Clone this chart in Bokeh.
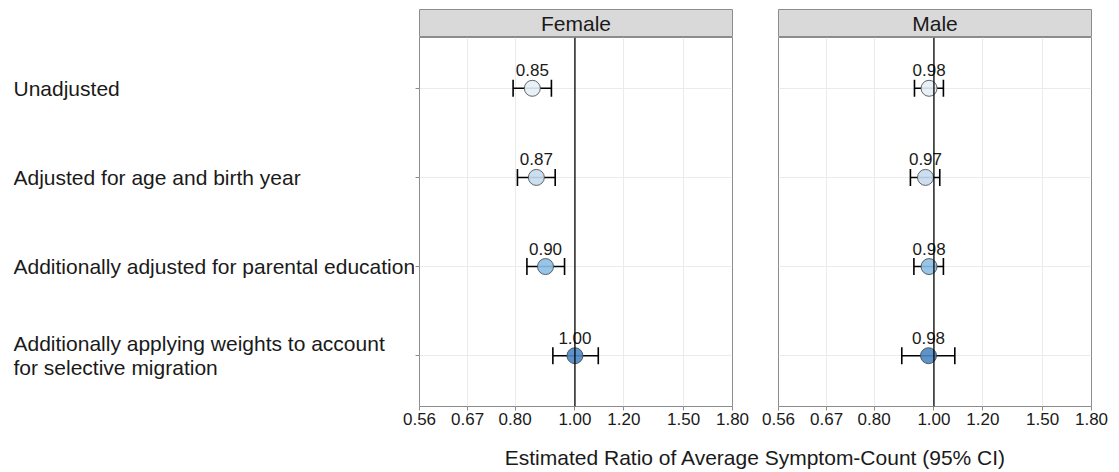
import math
from bokeh.plotting import figure
from bokeh.layouts import row, column
from bokeh.models import (ColumnDataSource, Range1d, FixedTicker, NumeralTickFormatter,
                          Whisker, TeeHead, Span, Spacer)
from bokeh.core.properties import value
from bokeh.embed import file_html
from bokeh.resources import INLINE

# ---------------- data ----------------
categories = [
    "Unadjusted",
    "Adjusted for age and birth year",
    "Additionally adjusted for parental education",
    "Additionally applying weights to account\nfor selective migration",
]
panels = ["Female", "Male"]

female_est = [0.853, 0.866, 0.896, 1.000]
female_lo = [0.794, 0.807, 0.836, 0.921]
female_hi = [0.916, 0.929, 0.962, 1.091]

male_est = [0.982, 0.969, 0.982, 0.980]
male_lo = [0.930, 0.916, 0.928, 0.887]
male_hi = [1.036, 1.022, 1.036, 1.081]

x_ticks = [0.56, 0.67, 0.80, 1.00, 1.20, 1.50, 1.80]
x_title = "Estimated Ratio of Average Symptom-Count (95% CI)"
point_fills = ["#e6eef7", "#c6dbef", "#8bbfe6", "#4c87c3"]

# ---------------- style ----------------
FONT = "Liberation Sans"
TXT = "#1a1a1a"
BORDER = "#8c8c8c"
GRID = "#ebebeb"
X_LO, X_HI = x_ticks[0], x_ticks[-1]
FRAME_W, FRAME_H = 313, 369
LAB_W = 414           # category-label column width
OVERLAP = 17          # female panel slides under the label column's right edge
F_LEFT = 419 - LAB_W + OVERLAP

n = len(categories)
y_pos = [n - i for i in range(n)]
y_range = Range1d(0.43, n + 0.57)


def panel(name, est, lo, hi, left_b, right_b, show_ticks, **kw):
    xr = Range1d(X_LO, X_HI)
    p = figure(frame_width=FRAME_W, frame_height=FRAME_H, x_axis_type="log",
               x_range=xr, y_range=y_range, output_backend="svg",
               toolbar_location=None, min_border_left=left_b,
               min_border_right=right_b, min_border_top=0, min_border_bottom=26,
               y_axis_location="left" if show_ticks else None, **kw)
    p.outline_line_color = BORDER
    p.outline_line_width = 1
    p.background_fill_color = "white"
    p.border_fill_color = "white"

    p.xaxis.ticker = FixedTicker(ticks=x_ticks)
    p.xaxis.formatter = NumeralTickFormatter(format="0.00")
    p.xaxis.major_tick_out = 4
    p.xaxis.major_tick_in = 0
    p.xaxis.minor_tick_out = 0
    p.xaxis.minor_tick_in = 0
    p.xaxis.major_tick_line_color = BORDER
    p.xaxis.axis_line_color = None
    p.xaxis.major_label_text_font = FONT
    p.xaxis.major_label_text_font_size = "17px"
    p.xaxis.major_label_text_color = TXT
    p.xaxis.major_label_standoff = 2

    if show_ticks:
        p.yaxis.ticker = FixedTicker(ticks=y_pos)
        p.yaxis.major_tick_out = 4
        p.yaxis.major_tick_in = 0
        p.yaxis.minor_tick_out = 0
        p.yaxis.major_tick_line_color = BORDER
        p.yaxis.axis_line_color = None
        p.yaxis.major_label_overrides = {v: "" for v in y_pos}
        p.yaxis.major_label_standoff = 0

    p.xgrid.ticker = FixedTicker(ticks=x_ticks)
    p.ygrid.ticker = FixedTicker(ticks=y_pos)
    p.xgrid.grid_line_color = GRID
    p.ygrid.grid_line_color = GRID
    p.xgrid.minor_grid_line_color = None
    p.ygrid.minor_grid_line_color = None

    src = ColumnDataSource(dict(
        y=y_pos, est=est, lo=lo, hi=hi, fill=point_fills,
        lab=[f"{v:.2f}" for v in est]))

    p.scatter("est", "y", source=src, size=16, fill_color="fill",
              fill_alpha=0.9, line_color="#404040", line_width=0.8)

    w = Whisker(source=src, base="y", lower="lo", upper="hi", dimension="width",
                line_color="black", line_width=1.6,
                lower_head=TeeHead(size=17, line_color="black", line_width=1.6),
                upper_head=TeeHead(size=17, line_color="black", line_width=1.6))
    p.add_layout(w)

    p.add_layout(Span(location=1.0, dimension="height", line_color="black",
                      line_width=1.3))

    p.text("est", "y", text="lab", source=src, y_offset=-12,
           text_align="center", text_baseline="bottom",
           text_font=value(FONT), text_font_size="17px", text_color=TXT)
    return p, xr


def strip(name, xr, left_b, right_b):
    s = figure(frame_width=FRAME_W, frame_height=28, x_axis_type="log",
               x_range=xr, y_range=Range1d(0, 1), output_backend="svg",
               toolbar_location=None, min_border_left=left_b,
               min_border_right=right_b, min_border_top=9, min_border_bottom=0,
               x_axis_location=None, y_axis_location=None)
    s.background_fill_color = "#d9d9d9"
    s.border_fill_color = "white"
    s.outline_line_color = BORDER
    s.outline_line_width = 1
    s.xgrid.grid_line_color = None
    s.ygrid.grid_line_color = None
    s.text(x=[math.sqrt(X_LO * X_HI)], y=[0.5], text=[name],
           text_align="center", text_baseline="middle",
           text_font=value(FONT), text_font_size="21px", text_color=TXT)
    return s


pf, xrf = panel(panels[0], female_est, female_lo, female_hi, F_LEFT, 20, True,
                margin=(0, 0, 0, -OVERLAP))
pf.border_fill_alpha = 0
pm, xrm = panel(panels[1], male_est, male_lo, male_hi, 26, 28, False)
sf = strip(panels[0], xrf, F_LEFT, 20)
sm = strip(panels[1], xrm, 26, 28)

# category labels (left column), sharing the panels' y scale
lab = figure(frame_width=LAB_W - 13, frame_height=FRAME_H, x_range=Range1d(0, 1),
             y_range=y_range, output_backend="svg", toolbar_location=None,
             min_border_left=13, min_border_right=0, min_border_top=0,
             min_border_bottom=26, x_axis_location=None, y_axis_location=None)
lab.outline_line_color = None
lab.xgrid.grid_line_color = None
lab.ygrid.grid_line_color = None
lab.text(x=[0] * n, y=y_pos, text=categories, text_align="left",
         text_baseline="middle", text_font=value(FONT), text_font_size="21px",
         text_color=TXT, text_line_height=1.05)

# shared x-axis title
xt = figure(width=1119, height=40, x_range=Range1d(0, 1119), y_range=Range1d(40, 0),
            output_backend="svg", toolbar_location=None, min_border=0,
            x_axis_location=None, y_axis_location=None)
xt.outline_line_color = None
xt.xgrid.grid_line_color = None
xt.ygrid.grid_line_color = None
xt.text(x=[755], y=[25], text=[x_title], text_align="center", text_baseline="middle",
        text_font=value(FONT), text_font_size="21px", text_color=TXT)

layout = column(
    row(Spacer(width=LAB_W - OVERLAP, height=37), sf, sm),
    row(lab, pf, pm),
    xt,
)

open("out.html", "w").write(file_html(layout, INLINE))
